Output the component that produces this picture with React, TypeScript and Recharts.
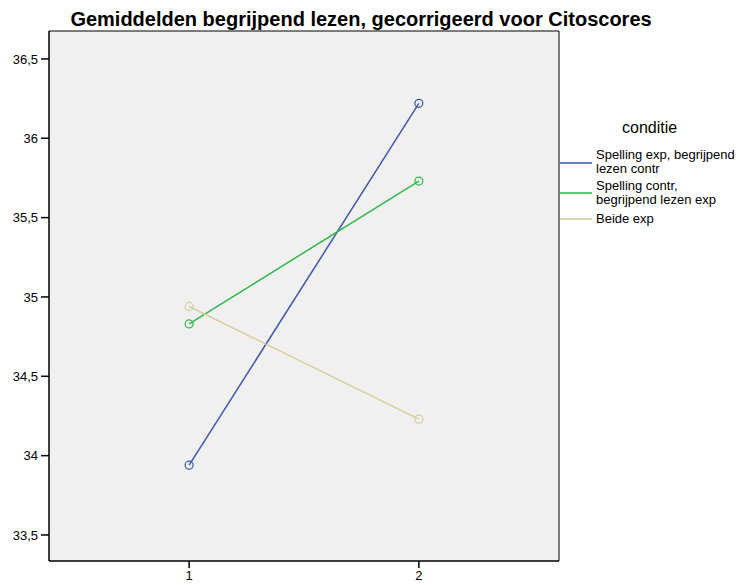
import { LineChart, Line, XAxis, YAxis, ReferenceArea } from "recharts";

const xValues = [1, 2];
const conditions = [
  "Spelling exp, begrijpend lezen contr",
  "Spelling contr, begrijpend lezen exp",
  "Beide exp",
];
const spellingExpValues = [33.94, 36.22];
const spellingContrValues = [34.83, 35.73];
const beideExpValues = [34.94, 34.23];
const yTicks = [33.5, 34, 34.5, 35, 35.5, 36, 36.5];
const yDomain = [33.336, 36.676];
const xDomain = [0.39, 2.61];

const colors = ["#3e58ac", "#2eb848", "#d3ce97"];
const keys = ["spellingExp", "spellingContr", "beideExp"];

const data = xValues.map((x, i) => ({
  x,
  spellingExp: spellingExpValues[i],
  spellingContr: spellingContrValues[i],
  beideExp: beideExpValues[i],
}));

const font = "'Liberation Sans', Arial, sans-serif";
const legendLines = [
  ["Spelling exp, begrijpend", "lezen contr"],
  ["Spelling contr,", "begrijpend lezen exp"],
  ["Beide exp"],
];
const legendTops = [148, 179, 212];
const legendLineY = [163, 193, 219];

export default function App() {
  return (
    <div
      style={{
        position: "absolute",
        left: 0,
        top: 0,
        width: 740,
        height: 585,
        background: "#fff",
        fontFamily: font,
      }}
    >
      <div
        style={{
          position: "absolute",
          left: 0,
          width: 722,
          top: 7,
          textAlign: "center",
          fontWeight: "bold",
          fontSize: 20,
          lineHeight: "24px",
          color: "#000",
        }}
      >
        Gemiddelden begrijpend lezen, gecorrigeerd voor Citoscores
      </div>
      <LineChart
        width={740}
        height={585}
        data={data}
        margin={{ top: 31, right: 181, bottom: 0, left: 0 }}
      >
        <ReferenceArea
          x1={xDomain[0]}
          x2={xDomain[1]}
          y1={yDomain[0]}
          y2={yDomain[1]}
          fill="#f0f0f0"
          fillOpacity={1}
          stroke="#000"
          strokeWidth={1}
        />
        <XAxis
          dataKey="x"
          type="number"
          domain={xDomain}
          ticks={xValues}
          height={24}
          tickSize={7}
          tickMargin={3}
          axisLine={{ stroke: "#000" }}
          tickLine={{ stroke: "#000", strokeWidth: 1.5 }}
          tick={{ fill: "#000", fontSize: 13, fontFamily: font }}
        />
        <YAxis
          type="number"
          domain={yDomain}
          ticks={yTicks}
          width={49}
          tickSize={8}
          tickMargin={3}
          axisLine={{ stroke: "#000" }}
          tickLine={{ stroke: "#000", strokeWidth: 1.5 }}
          tick={{ fill: "#000", fontSize: 13, fontFamily: font }}
          tickFormatter={(v: number) => String(v).replace(".", ",")}
        />
        {keys.map((k, i) => (
          <Line
            key={k}
            dataKey={k}
            name={conditions[i]}
            type="linear"
            stroke={colors[i]}
            strokeWidth={1.5}
            dot={{ r: 4, fill: "none", stroke: colors[i], strokeWidth: 1.2 }}
            isAnimationActive={false}
          />
        ))}
      </LineChart>
      <div
        style={{
          position: "absolute",
          left: 622,
          top: 119,
          fontSize: 16,
          color: "#000",
        }}
      >
        conditie
      </div>
      <svg
        style={{ position: "absolute", left: 0, top: 0, pointerEvents: "none" }}
        width={740}
        height={585}
      >
        {legendLineY.map((y, i) => (
          <line
            key={i}
            x1={560}
            x2={592}
            y1={y}
            y2={y}
            stroke={colors[i]}
            strokeWidth={1.5}
          />
        ))}
      </svg>
      {legendLines.map((lines, i) => (
        <div
          key={i}
          style={{
            position: "absolute",
            left: 596,
            top: legendTops[i],
            fontSize: 13,
            lineHeight: "14px",
            color: "#000",
            whiteSpace: "nowrap",
          }}
        >
          {lines.map((t) => (
            <div key={t}>{t}</div>
          ))}
        </div>
      ))}
    </div>
  );
}
